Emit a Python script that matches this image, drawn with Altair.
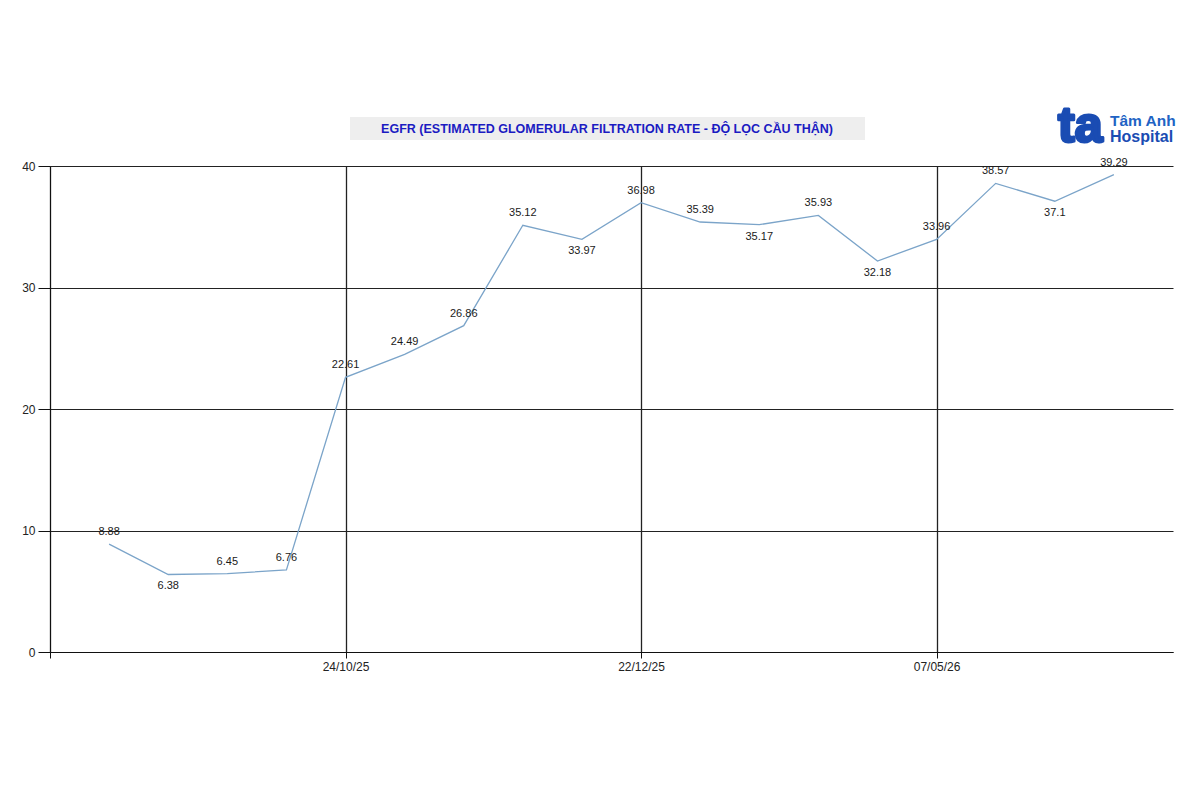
import altair as alt
import pandas as pd

# ---- data ----
egfr_values = [8.88, 6.38, 6.45, 6.76, 22.61, 24.49, 26.86, 35.12, 33.97,
               36.98, 35.39, 35.17, 35.93, 32.18, 33.96, 38.57, 37.1, 39.29]
point_index = list(range(1, len(egfr_values) + 1))
tick_positions = [5, 10, 15]
tick_labels = ["24/10/25", "22/12/25", "07/05/26"]
y_ticks = [0, 10, 20, 30, 40]
title_text = "EGFR (ESTIMATED GLOMERULAR FILTRATION RATE - ĐỘ LỌC CẦU THẬN)"

# label position: local minima below, others above
pos = []
for i, v in enumerate(egfr_values):
    prev_v = egfr_values[i - 1] if i > 0 else None
    next_v = egfr_values[i + 1] if i < len(egfr_values) - 1 else None
    is_min = (prev_v is None or v < prev_v) and (next_v is None or v < next_v)
    pos.append("below" if is_min else "above")

df = pd.DataFrame({"idx": point_index, "val": egfr_values, "pos": pos,
                   "label": [f"{v:g}" for v in egfr_values]})

label_expr = " : ".join(
    [f"datum.value == {p} ? '{l}'" for p, l in zip(tick_positions, tick_labels)]
) + " : ''"

W, H = 1123, 486
FONT = "Liberation Sans"

x_enc = alt.X("idx:Q", scale=alt.Scale(domain=[0, 19], nice=False, zero=False),
              axis=alt.Axis(values=[0] + tick_positions, labelExpr=label_expr,
                            grid=True, gridColor="#222222", gridWidth=1.3,
                            domainColor="#111111", tickColor="#111111",
                            tickSize=6, labelPadding=3, labelFontSize=12,
                            labelColor="#222222", labelFont=FONT, title=None))
y_enc = alt.Y("val:Q", scale=alt.Scale(domain=[0, 40], nice=False),
              axis=alt.Axis(values=y_ticks, grid=True, gridColor="#222222",
                            gridWidth=1, domainColor="#111111", tickColor="#111111",
                            tickSize=12, labelPadding=3, labelFontSize=12,
                            labelColor="#222222", labelFont=FONT, title=None))

base = alt.Chart(df)
line = base.mark_line(color="#7ba4c9", strokeWidth=1.3).encode(x=x_enc, y=y_enc)

above = base.transform_filter("datum.pos == 'above'").mark_text(
    dy=-12, fontSize=11, font=FONT, color="#1a1a1a").encode(
    x="idx:Q", y="val:Q", text="label:N")
below = base.transform_filter("datum.pos == 'below'").mark_text(
    dy=12, fontSize=11, font=FONT, color="#1a1a1a").encode(
    x="idx:Q", y="val:Q", text="label:N")

one = pd.DataFrame({"t": [title_text]})
title_bg = alt.Chart(one).mark_rect(color="#eeeeee").encode(
    x=alt.value(300), x2=alt.value(815), y=alt.value(-49), y2=alt.value(-26))
title = alt.Chart(one).mark_text(
    fontSize=12.5, fontWeight="bold", font=FONT, color="#1b1bc2",
    align="center", baseline="middle").encode(
    x=alt.value(557), y=alt.value(-37), text="t:N")

logo_df = pd.DataFrame({"ta": ["ta"], "l1": ["Tâm Anh"], "l2": ["Hospital"]})
logo_color = "#1a4cb3"
logo_ta = alt.Chart(logo_df).mark_text(
    fontSize=50, fontWeight="bold", font=FONT, color=logo_color,
    stroke=logo_color, strokeWidth=3, strokeJoin="round",
    align="left", baseline="alphabetic").encode(
    x=alt.value(1008), y=alt.value(-24), text="ta:N")
logo_l1 = alt.Chart(logo_df).mark_text(
    fontSize=15.5, fontWeight="bold", font=FONT, color="#2163c4",
    align="left", baseline="alphabetic").encode(
    x=alt.value(1060), y=alt.value(-40), text="l1:N")
logo_l2 = alt.Chart(logo_df).mark_text(
    fontSize=16, fontWeight="bold", font=FONT, color=logo_color,
    align="left", baseline="alphabetic").encode(
    x=alt.value(1060), y=alt.value(-24), text="l2:N")

chart = alt.layer(line, above, below, title_bg, title, logo_ta, logo_l1, logo_l2).properties(
    width=W, height=H,
    autosize=alt.AutoSizeParams(type="none"),
    padding={"left": 42, "top": 158, "right": 10, "bottom": 100},
    background="white",
).configure_view(stroke=None)

chart.save("out.html", embed_options={"renderer": "svg", "actions": False})
